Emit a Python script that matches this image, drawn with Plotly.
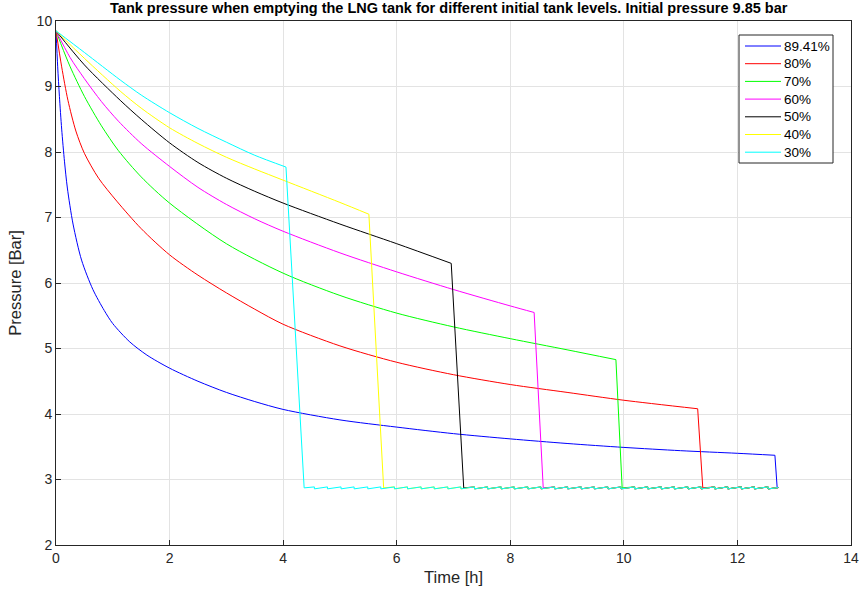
import plotly.graph_objects as go

labels = ["89.41%", "80%", "70%", "60%", "50%", "40%", "30%"]
colors = ["#0000ff", "#ff0000", "#00ff00", "#ff00ff", "#000000", "#ffff00", "#00ffff"]

# decay part (time h, pressure bar)
t_blue = [0, 0.03, 0.06, 0.1, 0.15, 0.2, 0.3, 0.45, 0.65, 0.85, 1.0, 1.3, 1.6, 2.0, 2.5, 3.0, 3.5, 4.0, 5.0, 6.0, 7.0, 8.0, 9.0, 10.0, 11.0, 12.0, 12.66]
p_blue = [9.85, 9.3, 8.85, 8.35, 7.85, 7.45, 6.9, 6.35, 5.9, 5.58, 5.38, 5.1, 4.9, 4.7, 4.5, 4.33, 4.19, 4.07, 3.91, 3.8, 3.7, 3.62, 3.55, 3.49, 3.44, 3.4, 3.37]

t_red = [0, 0.1, 0.21, 0.35, 0.5, 0.75, 1.07, 1.5, 2.0, 2.5, 3.0, 3.5, 4.0, 5.0, 6.0, 7.0, 8.0, 9.0, 10.0, 11.3]
p_red = [9.85, 9.3, 8.79, 8.32, 7.98, 7.6, 7.25, 6.83, 6.43, 6.12, 5.85, 5.6, 5.37, 5.04, 4.79, 4.6, 4.45, 4.33, 4.21, 4.08]

t_green = [0, 0.1, 0.25, 0.5, 0.8, 1.1, 1.5, 2.0, 3.0, 4.0, 5.0, 6.0, 7.0, 8.0, 9.0, 9.86]
p_green = [9.85, 9.62, 9.3, 8.85, 8.4, 8.02, 7.62, 7.22, 6.6, 6.15, 5.81, 5.54, 5.33, 5.15, 4.98, 4.83]

t_mag = [0, 0.25, 0.5, 0.8, 1.1, 1.5, 2.0, 2.5, 3.0, 3.5, 4.0, 5.0, 6.0, 7.0, 8.0, 8.42]
p_mag = [9.85, 9.44, 9.12, 8.77, 8.47, 8.13, 7.78, 7.46, 7.2, 6.98, 6.79, 6.46, 6.17, 5.9, 5.65, 5.55]

t_blk = [0, 0.5, 1.13, 1.5, 2.0, 2.5, 3.0, 3.5, 4.0, 5.0, 6.0, 6.96]
p_blk = [9.85, 9.33, 8.79, 8.5, 8.14, 7.84, 7.6, 7.4, 7.22, 6.9, 6.6, 6.3]

t_yel = [0, 0.5, 1.13, 1.5, 2.0, 2.5, 3.0, 3.5, 4.0, 5.0, 5.51]
p_yel = [9.85, 9.43, 8.93, 8.67, 8.37, 8.13, 7.92, 7.74, 7.57, 7.23, 7.05]

t_cyn = [0, 0.5, 1.13, 1.5, 2.0, 2.5, 3.0, 3.5, 4.05]
p_cyn = [9.85, 9.52, 9.1, 8.87, 8.6, 8.36, 8.15, 7.95, 7.77]

t_drop = [12.70, 11.39, 9.97, 8.58, 7.18, 5.77, 4.37]

# sawtooth after the drop
tooth_times = [4.55, 4.78, 5.02, 5.25, 5.49, 5.72, 5.96, 6.19, 6.43, 6.66, 6.90, 7.13,
               7.37, 7.60, 7.84, 8.07, 8.31, 8.54, 8.78, 9.01, 9.25, 9.48, 9.72, 9.95,
               10.19, 10.42, 10.66, 10.89, 11.13, 11.36, 11.60, 11.83, 12.07, 12.30, 12.54]
p_low = 2.857
p_high = 2.887
t_end = 12.72

decays = [(t_blue, p_blue), (t_red, p_red), (t_green, p_green), (t_mag, p_mag),
          (t_blk, p_blk), (t_yel, p_yel), (t_cyn, p_cyn)]

fig = go.Figure()
for (tt, pp), td, lab, col in zip(decays, t_drop, labels, colors):
    fig.add_trace(go.Scatter(x=tt, y=pp, mode="lines", name=lab, showlegend=False,
                             line=dict(color=col, width=1, shape="spline", smoothing=0.8)))
    xs = [tt[-1], td]
    ys = [pp[-1], p_low + 0.015]
    for th in tooth_times:
        if th > td + 0.05:
            xs += [th, th]
            ys += [p_high, p_low]
    xs.append(t_end)
    ys.append(p_low + 0.02)
    fig.add_trace(go.Scatter(x=xs, y=ys, mode="lines", showlegend=False,
                             line=dict(color=col, width=1)))

# manual legend (MATLAB style box)
L, R, T, B = 56, 851, 21, 545
def px(x):
    return (x - L) / (R - L)
def py(y):
    return (B - y) / (B - T)

shapes = [dict(type="rect", xref="paper", yref="paper",
               x0=px(739), x1=px(833), y0=py(163), y1=py(35),
               line=dict(color="#262626", width=1), fillcolor="white", layer="above")]
annotations = []
for i, (lab, col) in enumerate(zip(labels, colors)):
    yc = 46 + i * 17.7
    shapes.append(dict(type="line", xref="paper", yref="paper",
                       x0=px(745), x1=px(781), y0=py(yc), y1=py(yc),
                       line=dict(color=col, width=1), layer="above"))
    annotations.append(dict(text=lab, xref="paper", yref="paper", x=px(782), y=py(yc),
                            xanchor="left", yanchor="middle", showarrow=False,
                            font=dict(size=13.5, color="black")))

axis_common = dict(showline=True, linecolor="#262626", linewidth=1, mirror=True,
                   ticks="inside", ticklen=5, tickcolor="#262626", automargin=False,
                   showgrid=True, gridcolor="#e3e3e3", gridwidth=1, zeroline=False,
                   tickfont=dict(size=14, color="#262626"))

fig.update_layout(
    width=859, height=598,
    margin=dict(l=L, r=859 - R, t=T, b=598 - B),
    paper_bgcolor="white", plot_bgcolor="white",
    font=dict(family="Liberation Sans, Arial, sans-serif", color="#262626"),
    title=dict(text="<b>Tank pressure when emptying the LNG tank for different initial tank levels. Initial pressure 9.85 bar</b>",
               xref="paper", x=0.494, xanchor="center", y=0.986, yanchor="middle",
               font=dict(size=14.5, color="black")),
    xaxis=dict(range=[0, 14], dtick=2, title=dict(text="Time [h]", font=dict(size=16.5), standoff=6), **axis_common),
    yaxis=dict(range=[2, 10], dtick=1, title=dict(text="Pressure [Bar]", font=dict(size=16.5), standoff=10), **axis_common),
    shapes=shapes,
    annotations=annotations,
    showlegend=False,
)

fig.write_html("out.html")
